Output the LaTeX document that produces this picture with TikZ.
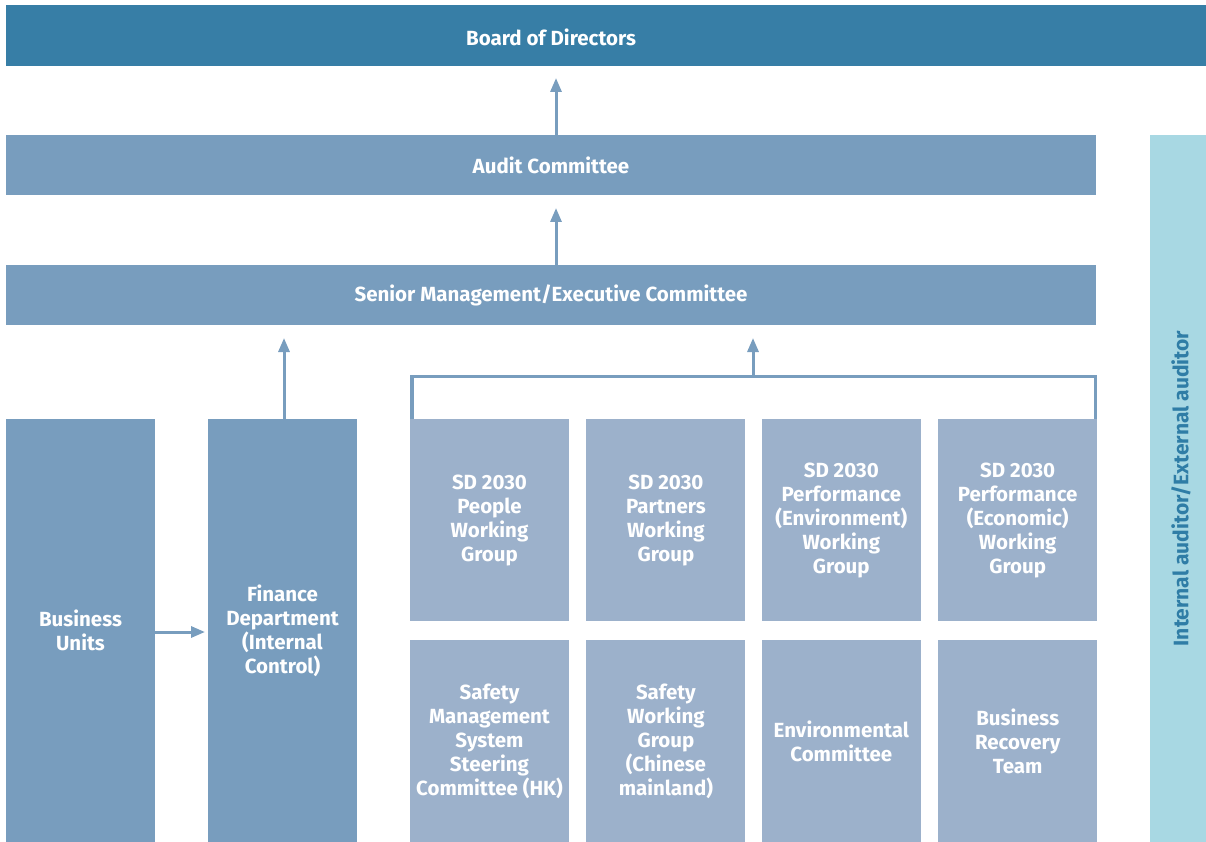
\documentclass[tikz,border=0pt]{standalone}
\usepackage{fontspec}
\setmainfont{Fira Sans}
\usetikzlibrary{arrows.meta,positioning,calc}
\definecolor{boardblue}{HTML}{377EA6}
\definecolor{midblue}{HTML}{789DBE}
\definecolor{paleblue}{HTML}{9CB1CB}
\definecolor{sidecyan}{HTML}{A8D8E3}
\definecolor{sidetext}{HTML}{2F7DA6}
\tikzset{
  box/.style={fill=#1,draw=none,inner sep=0pt,text=white,align=center,font=\fontsize{20.5}{24}\selectfont\bfseries},
  box/.default={midblue},
  wide/.style={box,minimum width=1090pt,minimum height=60pt},
  col/.style={box,minimum width=149pt,minimum height=423pt},
  grp/.style={box=paleblue,minimum width=159pt,minimum height=202pt},
  lbl/.style={text=white,font=\fontsize{20.5}{24}\selectfont\bfseries},
  arr/.style={draw=midblue,line width=3pt,-{Triangle[length=14pt,width=11pt]}},
  link/.style={draw=midblue,line width=3.5pt},
}
\begin{document}
\begin{tikzpicture}[x=1pt,y=-1pt]
 \useasboundingbox (0,0) rectangle (1206,842);
 % ---- top bars
 \node[box=boardblue,minimum width=1200pt,minimum height=61pt] (board) at (606,35.5) {};
 \node[lbl] (boardtxt) at (551,37) {Board of Directors};
 \node[wide] (audit) at (551,165) {Audit Committee};
 \node[wide] (senior) at (551,295) {Senior Management/Executive Committee};
 \draw[arr] (audit.north -| 556,0) -- (556,78);
 \draw[arr] (senior.north -| 556,0) -- (556,208);
 % ---- left columns
 \node[col] (units) at (80.5,630.5) {Business\\Units};
 \node[col] (finance) at (282.5,630.5) {Finance\\Department\\(Internal\\Control)};
 \draw[arr] (units.east |- 0,632) -- (205,632);
 \draw[arr] (finance.north -| 284,0) -- (284,338);
 % ---- working groups
 \node[grp] (people) at (489.5,520) {SD 2030\\People\\Working\\Group};
 \node[grp,right=17pt of people] (partners) {SD 2030\\Partners\\Working\\Group};
 \node[grp,right=16pt of partners] (environ) {SD 2030\\Performance\\(Environment)\\Working\\Group};
 \node[grp,right=17pt of environ] (econ) {SD 2030\\Performance\\(Economic)\\Working\\Group};
 \node[grp,below=19pt of people] (smssc) {Safety\\Management\\System\\Steering\\Committee (HK)};
 \node[grp,below=19pt of partners] (swg) {Safety\\Working\\Group\\(Chinese\\mainland)};
 \node[grp,below=19pt of environ] (envcom) {Environmental\\Committee};
 \node[grp,below=19pt of econ] (brt) {Business\\Recovery\\Team};
 % ---- bracket
 \coordinate (brk) at (753,376.5);
 \draw[link] ([xshift=2pt]people.north west) |- (brk) -| ([xshift=-2pt]econ.north east);
 \draw[arr] (brk) -- (753,338);
 % ---- auditor bar
 \node[box=sidecyan,minimum width=56pt,minimum height=707pt] (auditor) at (1178,488.5) {};
 \node[rotate=90,text=sidetext,font=\fontsize{21}{24}\selectfont\bfseries] (auditortxt) at (1181,488.5) {Internal auditor/External auditor};
\end{tikzpicture}
\end{document}
